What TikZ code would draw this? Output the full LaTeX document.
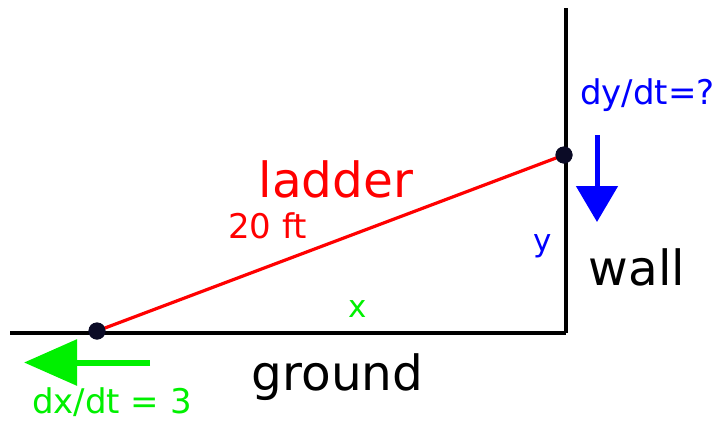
\documentclass[tikz,border=0pt]{standalone}
\usepackage{fontspec}
\setmainfont{DejaVu Sans}
\usetikzlibrary{arrows.meta}
\definecolor{dotc}{HTML}{0B0B26}
\definecolor{grn}{HTML}{00F000}
\tikzset{
  lbl/.style={anchor=base,inner sep=0pt,outer sep=0pt},
  big/.style={lbl,font=\fontsize{48.5}{56}\selectfont},
  mid/.style={lbl,font=\fontsize{34}{40}\selectfont},
  small/.style={lbl,font=\fontsize{31}{36}\selectfont},
  structure/.style={line width=4pt,black},
  dotnode/.style={circle,fill=dotc,minimum size=17pt,inner sep=0pt},
}
\begin{document}
\begin{tikzpicture}[x=1pt,y=-1pt]
\useasboundingbox (0,0) rectangle (716,421);
\coordinate (gl) at (10,332.5);
\coordinate (corner) at (566,332.5);
\coordinate (walltop) at (566,8);
\draw[structure] (gl) -- (corner);
\draw[structure] (corner) -- (walltop);
\node[dotnode] (bottom) at (97,331) {};
\node[dotnode] (top) at (564,155) {};
\draw[red,line width=3.2pt] (bottom.center) -- (top.center);
\node[dotnode] at (97,331) {};
\node[dotnode] at (564,155) {};
\node[big,red] (ladder) at (336,197) {ladder};
\node[mid,red] (len) at (267.5,238) {20 ft};
\node[small,grn] (x) at (358,317) {x};
\node[small,blue] (y) at (543,251) {y};
\node[big] (wall) at (637,285) {wall};
\node[big] (ground) at (337.5,390) {ground};
\node[mid,grn] (dx) at (112,413) {dx/dt = 3};
\node[mid,blue] (dy) at (647.5,104) {dy/dt=?};
\coordinate (ga) at (150,362.5);
\coordinate (gb) at (24,362.5);
\draw[grn,line width=6pt,-{Triangle[length=53pt,width=45pt]}] (ga) -- (gb);
\coordinate (ba) at (597,135);
\coordinate (bb) at (597,222);
\draw[blue,line width=5pt,-{Triangle[length=36pt,width=41pt]}] (ba) -- (bb);
\end{tikzpicture}
\end{document}
